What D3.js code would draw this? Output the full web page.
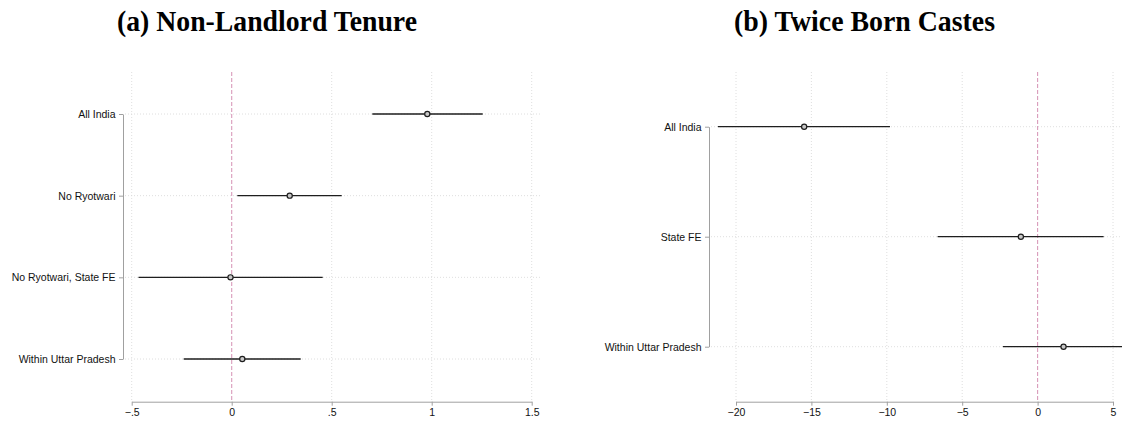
<!DOCTYPE html>
<html>
<head>
<meta charset="utf-8">
<script src="https://cdn.jsdelivr.net/npm/d3@7"></script>
<style>
  html, body { margin: 0; padding: 0; background: #fff; }
  svg { display: block; }
  .lbl { font-family: "Liberation Sans", Arial, Helvetica, sans-serif; font-size: 10.5px; fill: #111; }
  .ttl { font-family: "Liberation Serif", "Times New Roman", Times, serif; font-size: 29px; font-weight: bold; fill: #000; }
</style>
</head>
<body>
<svg id="chart" width="1122" height="422"></svg>
<script>
// Panel (a): Non-Landlord Tenure
const tenureModels = ["All India", "No Ryotwari", "No Ryotwari, State FE", "Within Uttar Pradesh"];
const tenureCoef   = [0.978, 0.290, -0.006, 0.053];
const tenureLower  = [0.703, 0.028, -0.466, -0.240];
const tenureUpper  = [1.255, 0.550, 0.455, 0.345];
const tenureTicks  = [-0.5, 0, 0.5, 1, 1.5];
const tenureTickLabels = ["\u2212.5", "0", ".5", "1", "1.5"];

// Panel (b): Twice Born Castes
const casteModels = ["All India", "State FE", "Within Uttar Pradesh"];
const casteCoef   = [-15.48, -1.11, 1.72];
const casteLower  = [-21.2, -6.63, -2.30];
const casteUpper  = [-9.79, 4.38, 5.74];
const casteTicks  = [-20, -15, -10, -5, 0, 5];
const casteTickLabels = ["\u221220", "\u221215", "\u221210", "\u22125", "0", "5"];

const svg = d3.select("#chart");

function panel(cfg) {
  const g = svg.append("g");
  const x = d3.scaleLinear().domain(cfg.xDomain).range(cfg.xRange);
  const y = d3.scalePoint().domain(cfg.models).range(cfg.yRange);

  const rows = cfg.models.map((m, i) => ({
    model: m, coef: cfg.coef[i], lo: cfg.lower[i], hi: cfg.upper[i]
  }));

  // vertical grid at each x tick (zero is drawn as a reference line instead)
  g.selectAll("line.vgrid")
    .data(cfg.ticks.filter(t => t !== 0))
    .join("line")
    .attr("x1", d => x(d)).attr("x2", d => x(d))
    .attr("y1", cfg.plotTop).attr("y2", cfg.axisY)
    .attr("stroke", "#d6d6d6").attr("stroke-width", 0.8)
    .attr("stroke-dasharray", "1,2");

  // horizontal grid at each model row
  g.selectAll("line.hgrid")
    .data(cfg.models)
    .join("line")
    .attr("x1", cfg.axisX + 2).attr("x2", cfg.plotRight)
    .attr("y1", d => y(d)).attr("y2", d => y(d))
    .attr("stroke", "#d6d6d6").attr("stroke-width", 0.8)
    .attr("stroke-dasharray", "1,2");

  // reference line at zero
  g.append("line")
    .attr("x1", x(0)).attr("x2", x(0))
    .attr("y1", cfg.plotTop).attr("y2", cfg.axisY)
    .attr("stroke", "#d99bbb").attr("stroke-width", 1.1)
    .attr("stroke-dasharray", "4,2");

  // x axis
  const xAxis = d3.axisBottom(x)
    .tickValues(cfg.ticks)
    .tickFormat((d, i) => cfg.tickLabels[i])
    .tickSize(4).tickSizeOuter(0).tickPadding(3);
  const xg = g.append("g").attr("transform", `translate(0,${cfg.axisY})`).call(xAxis);
  xg.select(".domain").attr("stroke", "#a0a0a0");
  xg.selectAll(".tick line").attr("stroke", "#a0a0a0");
  xg.selectAll(".tick text").attr("class", "lbl").attr("font-size", null).attr("font-family", null);

  // y axis
  const yAxis = d3.axisLeft(y).tickSize(4).tickSizeOuter(0).tickPadding(3.5);
  const yg = g.append("g").attr("transform", `translate(${cfg.axisX},0)`).call(yAxis);
  yg.select(".domain").attr("stroke", "#a0a0a0");
  yg.selectAll(".tick line").attr("stroke", "#a0a0a0");
  yg.selectAll(".tick text").attr("class", "lbl").attr("font-size", null).attr("font-family", null);

  // confidence intervals
  g.selectAll("line.ci")
    .data(rows)
    .join("line")
    .attr("x1", d => x(d.lo)).attr("x2", d => x(d.hi))
    .attr("y1", d => y(d.model)).attr("y2", d => y(d.model))
    .attr("stroke", "#1e1e1e").attr("stroke-width", 1.3);

  // point estimates
  g.selectAll("circle.pt")
    .data(rows)
    .join("circle")
    .attr("cx", d => x(d.coef)).attr("cy", d => y(d.model))
    .attr("r", 2.6)
    .attr("fill", "#c8c8c8").attr("stroke", "#1e1e1e").attr("stroke-width", 1.2);

  // title, set in a slightly condensed bold serif
  svg.append("text")
    .attr("class", "ttl")
    .attr("x", cfg.titleX).attr("y", 31)
    .attr("text-anchor", "middle")
    .attr("textLength", cfg.titleWidth)
    .attr("lengthAdjust", "spacingAndGlyphs")
    .text(cfg.title);
}

panel({
  title: "(a) Non-Landlord Tenure", titleX: 267, titleWidth: 300,
  models: tenureModels, coef: tenureCoef, lower: tenureLower, upper: tenureUpper,
  ticks: tenureTicks, tickLabels: tenureTickLabels,
  xDomain: [-0.5, 1.5], xRange: [131.7, 531.7],
  yRange: [114, 359], axisX: 123, axisY: 401.7, plotTop: 72, plotRight: 542
});

panel({
  title: "(b) Twice Born Castes", titleX: 864.5, titleWidth: 261,
  models: casteModels, coef: casteCoef, lower: casteLower, upper: casteUpper,
  ticks: casteTicks, tickLabels: casteTickLabels,
  xDomain: [-20, 5], xRange: [736, 1113],
  yRange: [126.7, 346.7], axisX: 709, axisY: 401.7, plotTop: 72, plotRight: 1122
});
</script>
</body>
</html>
